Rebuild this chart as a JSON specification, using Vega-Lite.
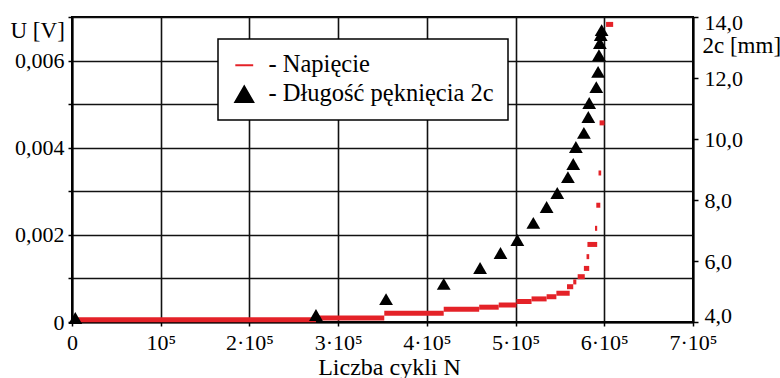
{
  "$schema": "https://vega.github.io/schema/vega-lite/v6.json",
  "autosize": "none",
  "width": 621,
  "height": 305,
  "padding": {"left": 72, "top": 17, "right": 87, "bottom": 56},
  "background": "white",
  "config": {
    "font": "Liberation Serif",
    "view": {"stroke": "black", "strokeWidth": 2},
    "axis": {
      "domainColor": "black",
      "domainWidth": 2,
      "tickColor": "black",
      "tickWidth": 1.5,
      "gridColor": "#111111",
      "gridWidth": 1.6,
      "gridOpacity": 1,
      "labelColor": "black",
      "titleColor": "black",
      "labelFont": "Liberation Serif",
      "titleFont": "Liberation Serif",
      "labelFontSize": 22,
      "titleFontSize": 23,
      "titleFontWeight": "normal"
    }
  },
  "datasets": {
    "napiecie": [
      {"N_start": 4000, "N_end": 275000, "U": 0.00005},
      {"N_start": 275000, "N_end": 352000, "U": 0.00009},
      {"N_start": 352000, "N_end": 419000, "U": 0.0002},
      {"N_start": 419000, "N_end": 459000, "U": 0.00029},
      {"N_start": 459000, "N_end": 481000, "U": 0.00034},
      {"N_start": 481000, "N_end": 501000, "U": 0.00039},
      {"N_start": 501000, "N_end": 518000, "U": 0.00047},
      {"N_start": 518000, "N_end": 535000, "U": 0.00053},
      {"N_start": 535000, "N_end": 546000, "U": 0.00058},
      {"N_start": 546000, "N_end": 561000, "U": 0.00066},
      {"N_start": 558000, "N_end": 565000, "U": 0.00081},
      {"N_start": 565000, "N_end": 568500, "U": 0.00092},
      {"N_start": 570000, "N_end": 578000, "U": 0.00104},
      {"N_start": 577000, "N_end": 583000, "U": 0.00123},
      {"N_start": 580000, "N_end": 583000, "U": 0.0015},
      {"N_start": 581000, "N_end": 592000, "U": 0.00178},
      {"N_start": 589500, "N_end": 592000, "U": 0.00215},
      {"N_start": 591000, "N_end": 595500, "U": 0.00268},
      {"N_start": 593500, "N_end": 596500, "U": 0.00342},
      {"N_start": 594700, "N_end": 600300, "U": 0.00457},
      {"N_start": 602000, "N_end": 610000, "U": 0.00683}
    ],
    "dlugosc": [
      {"N": 3700, "c2": 4.13},
      {"N": 275000, "c2": 4.23},
      {"N": 354000, "c2": 4.75},
      {"N": 419000, "c2": 5.25},
      {"N": 460000, "c2": 5.77},
      {"N": 483000, "c2": 6.26},
      {"N": 502000, "c2": 6.69},
      {"N": 520000, "c2": 7.25},
      {"N": 535000, "c2": 7.77},
      {"N": 547000, "c2": 8.23},
      {"N": 559000, "c2": 8.75},
      {"N": 565000, "c2": 9.18},
      {"N": 568000, "c2": 9.74},
      {"N": 577000, "c2": 10.2},
      {"N": 582000, "c2": 10.72},
      {"N": 583000, "c2": 11.18},
      {"N": 591000, "c2": 11.7},
      {"N": 593000, "c2": 12.2},
      {"N": 594000, "c2": 12.75},
      {"N": 595000, "c2": 13.15},
      {"N": 596000, "c2": 13.41},
      {"N": 597000, "c2": 13.57}
    ]
  },
  "layer": [
    {
      "data": {"name": "napiecie"},
      "mark": {"type": "rule", "strokeWidth": 5, "strokeCap": "butt"},
      "encoding": {
        "x": {
          "field": "N_start",
          "type": "quantitative",
          "scale": {"domain": [0, 700000], "nice": false},
          "axis": {
            "title": "Liczba cykli N",
            "titleFontSize": 24,
            "titlePadding": 2,
            "titleX": 317,
            "values": [0, 100000, 200000, 300000, 400000, 500000, 600000, 700000],
            "grid": true,
            "tickSize": 4,
            "labelPadding": 6,
            "labelFlush": false,
            "labelOverlap": false,
            "labelExpr": "datum.value == 0 ? '0' : (datum.value == 100000 ? '10⁵' : format(datum.value / 100000, 'd') + '·10⁵')"
          }
        },
        "x2": {"field": "N_end"},
        "y": {
          "field": "U",
          "type": "quantitative",
          "scale": {"domain": [0, 0.007], "nice": false},
          "axis": {
            "title": "U [V]",
            "titleAngle": 0,
            "titleAlign": "left",
            "titleBaseline": "middle",
            "titleX": -62,
            "titleY": 13,
            "values": [0, 0.001, 0.002, 0.003, 0.004, 0.005, 0.006, 0.007],
            "grid": true,
            "tickSize": 4,
            "labelPadding": 4,
            "labelFlush": false,
            "labelOverlap": false,
            "labelExpr": "datum.value == 0 ? '0' : (round(datum.value * 1000) % 2 == 0 && round(datum.value * 1000) < 7 ? replace(format(datum.value, '.3f'), '.', ',') : '')"
          }
        },
        "color": {
          "datum": "- Napięcie",
          "type": "nominal",
          "scale": {"domain": ["- Napięcie", "- Długość pęknięcia 2c"], "range": ["#e42228", "black"]},
          "legend": {
            "title": null,
            "orient": "none",
            "legendX": 146,
            "legendY": 22,
            "direction": "vertical",
            "padding": 14,
            "strokeColor": "black",
            "fillColor": "white",
            "labelFont": "Liberation Serif",
            "labelFontSize": 24.5,
            "labelColor": "black",
            "labelLimit": 500,
            "labelOffset": 12,
            "rowPadding": 4,
            "symbolSize": 320,
            "symbolOpacity": 1,
            "encode": {
              "legend": {"update": {"strokeWidth": {"value": 1.5}}},
              "symbols": {
                "update": {
                  "shape": {"signal": "datum.value === '- Napięcie' ? 'stroke' : 'triangle-up'"},
                  "fill": {"signal": "datum.value === '- Napięcie' ? 'transparent' : 'black'"},
                  "stroke": {"signal": "datum.value === '- Napięcie' ? '#e42228' : 'black'"},
                  "strokeWidth": {"value": 2},
                  "opacity": {"value": 1}
                }
              }
            }
          }
        }
      }
    },
    {
      "data": {"name": "dlugosc"},
      "mark": {"type": "point", "shape": "triangle-up", "filled": true, "size": 190, "opacity": 1},
      "encoding": {
        "x": {"field": "N", "type": "quantitative"},
        "y": {
          "field": "c2",
          "type": "quantitative",
          "scale": {"domain": [4, 14], "nice": false},
          "axis": {
            "orient": "right",
            "title": "2c [mm]",
            "titleAngle": 0,
            "titleAlign": "left",
            "titleBaseline": "middle",
            "titleX": 9,
            "titleY": 28,
            "values": [4, 6, 8, 10, 12, 14],
            "grid": false,
            "tickSize": 5,
            "labelPadding": 6,
            "labelFlush": true,
            "labelFlushOffset": 5,
            "labelOverlap": false,
            "labelExpr": "replace(format(datum.value, '.1f'), '.', ',')"
          }
        },
        "color": {"datum": "- Długość pęknięcia 2c", "type": "nominal"}
      }
    }
  ],
  "resolve": {"scale": {"y": "independent"}, "axis": {"y": "independent"}}
}
